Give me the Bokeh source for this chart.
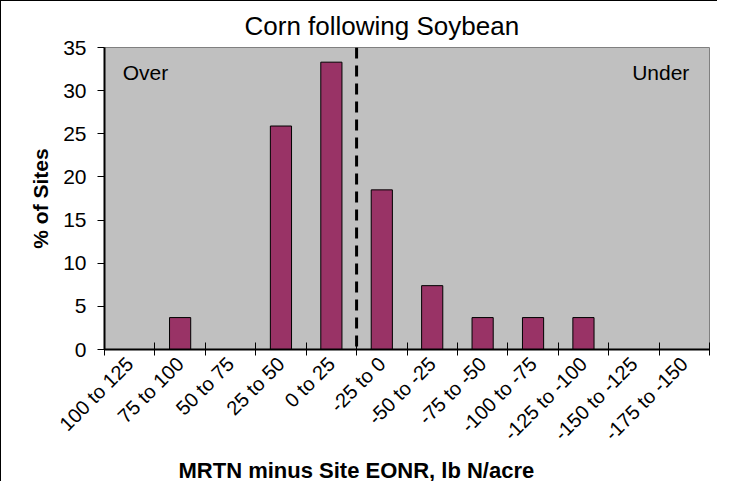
import math
import numpy as np
from bokeh.plotting import figure
from bokeh.models import Range1d, FixedTicker, Span, Label, Title
from bokeh.embed import file_html
from bokeh.resources import INLINE

# ---- data ----
categories = ["100 to 125", "75 to 100", "50 to 75", "25 to 50", "0 to 25", "-25 to 0",
              "-50 to -25", "-75 to -50", "-100 to -75", "-125 to -100", "-150 to -125",
              "-175 to -150"]
pct_sites = [0, 3.7, 0, 25.9, 33.3, 18.5, 7.4, 3.7, 3.7, 3.7, 0, 0]
y_ticks = [0, 5, 10, 15, 20, 25, 30, 35]
title_text = "Corn following Soybean"
x_label = "MRTN minus Site EONR, lb N/acre"
y_label = "% of Sites"
divider_category = "-25 to 0"

FONT = "Liberation Sans"
n = len(categories)
centers = list(np.arange(n) + 0.5)
bounds = list(np.arange(n + 1).astype(float))

p = figure(width=717, height=481, output_backend="svg", toolbar_location=None,
           x_range=Range1d(0, n), y_range=Range1d(0, 35),
           min_border_left=103, min_border_right=9, min_border_top=46, min_border_bottom=131)
p.styles = {"border-left": "1px solid black", "border-top": "1px solid black"}

p.background_fill_color = "#C0C0C0"
p.border_fill_color = "white"
p.outline_line_color = "#808080"
p.outline_line_width = 1
p.grid.visible = False

p.vbar(x=centers, top=pct_sites, width=0.42, fill_color="#993366",
       line_color="black", line_width=1)

# dashed divider between over and under
p.add_layout(Span(location=float(categories.index(divider_category)), dimension="height",
                  line_color="black", line_width=3, line_dash="11 7"))

# title
p.title.text = title_text
p.title.align = "left"
p.title.offset = 140
p.title.standoff = 14
p.title.text_font = FONT
p.title.text_font_size = "26px"
p.title.text_font_style = "normal"
p.title.text_color = "black"

# x axis
xa = p.xaxis[0]
xa.ticker = FixedTicker(ticks=centers, minor_ticks=bounds)
xa.major_label_overrides = {float(c): lab for c, lab in zip(centers, categories)}
xa.major_label_orientation = math.pi / 4
xa.major_label_text_font = FONT
xa.major_label_text_font_size = "20px"
xa.major_label_text_color = "black"
xa.major_tick_line_color = None
xa.major_tick_in = 0
xa.major_tick_out = 0
xa.minor_tick_line_color = "black"
xa.minor_tick_in = 7
xa.minor_tick_out = 6
xa.axis_line_color = "black"
xa.axis_line_width = 2
xa.major_label_standoff = 5

# x axis title, shifted left of the plot centre as in the original
p.add_layout(Title(text=x_label, align="left", offset=74, standoff=0, text_font=FONT,
                   text_font_size="22px", text_font_style="bold", text_color="black"),
             "below")

# y axis
ya = p.yaxis[0]
ya.ticker = FixedTicker(ticks=y_ticks)
ya.major_label_text_font = FONT
ya.major_label_text_font_size = "21px"
ya.major_label_text_color = "black"
ya.major_tick_in = 0
ya.major_tick_out = 7
ya.major_tick_line_color = "black"
ya.minor_tick_line_color = None
ya.axis_line_color = "black"
ya.axis_line_width = 2
ya.major_label_standoff = 11
ya.axis_label = y_label
ya.axis_label_text_font = FONT
ya.axis_label_text_font_size = "21px"
ya.axis_label_text_font_style = "bold"
ya.axis_label_text_color = "black"
ya.axis_label_standoff = 8

# region labels
p.add_layout(Label(x=0.36, y=32.1, text="Over", text_font=FONT, text_font_size="21px",
                   text_baseline="middle", text_align="left", text_color="black"))
p.add_layout(Label(x=11.6, y=32.1, text="Under", text_font=FONT, text_font_size="21px",
                   text_baseline="middle", text_align="right", text_color="black"))

open("out.html", "w").write(file_html(p, INLINE))
